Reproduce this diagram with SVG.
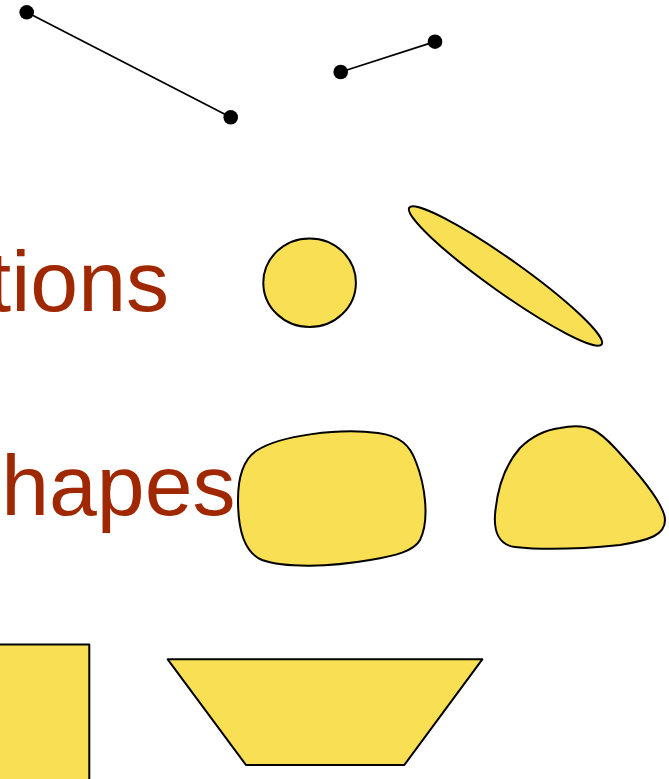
<svg xmlns="http://www.w3.org/2000/svg" width="669" height="779" viewBox="0 0 669 779">
<style>
.shape{fill:#f9df53;stroke:#000;stroke-width:2;stroke-linejoin:round}
.lbl{font-family:"Liberation Sans",Arial,sans-serif;font-size:86px;fill:#a02800;text-anchor:end}
.seg{stroke:#000;stroke-width:1.8;fill:none}
.dot{fill:#000}
</style>
<rect width="669" height="779" fill="#fff"/>
<g id="connectors">
<g id="line1"><line class="seg" x1="26.7" y1="12.3" x2="230.7" y2="117.3"/><circle class="dot" cx="26.7" cy="12.3" r="7.3"/><circle class="dot" cx="230.7" cy="117.3" r="7.3"/></g>
<g id="line2"><line class="seg" x1="340.7" y1="72" x2="435" y2="41.7"/><circle class="dot" cx="340.7" cy="72" r="7.3"/><circle class="dot" cx="435" cy="41.7" r="7.3"/></g>
</g>
<g id="label-tions"><text class="lbl" x="169" y="311">tions</text></g>
<g id="label-hapes"><text class="lbl" x="235.5" y="515">hapes</text></g>
<g id="circle"><ellipse class="shape" cx="309.6" cy="282.7" rx="46.3" ry="44.3"/></g>
<g id="ellipse"><ellipse class="shape" cx="505.5" cy="276" rx="118" ry="16.5" transform="rotate(35.4 505.5 276)"/></g>
<g id="blob1"><path class="shape" d="M256,451 C280,435 340,428 378,433 C400,436 410,445 416,462 C425,485 430,520 420,540 C414,551 395,556 370,560 C330,567 285,568 262,560 C245,553 238,530 238,500 C238,478 243,460 256,451 Z"/></g>
<g id="blob2"><path class="shape" d="M560,428 C590,422 600,432 615,448 C640,475 665,505 665,520 C665,535 650,540 620,545 C590,548 550,551 515,547 C498,545 494,530 495,515 C497,490 505,465 520,448 C532,436 545,430 560,428 Z"/></g>
<g id="rect"><rect class="shape" x="-50" y="644.5" width="139.3" height="200"/></g>
<g id="trapezoid"><polygon class="shape" points="167.7,659.3 482.3,659.3 404.3,765 246,765"/></g>
</svg>
